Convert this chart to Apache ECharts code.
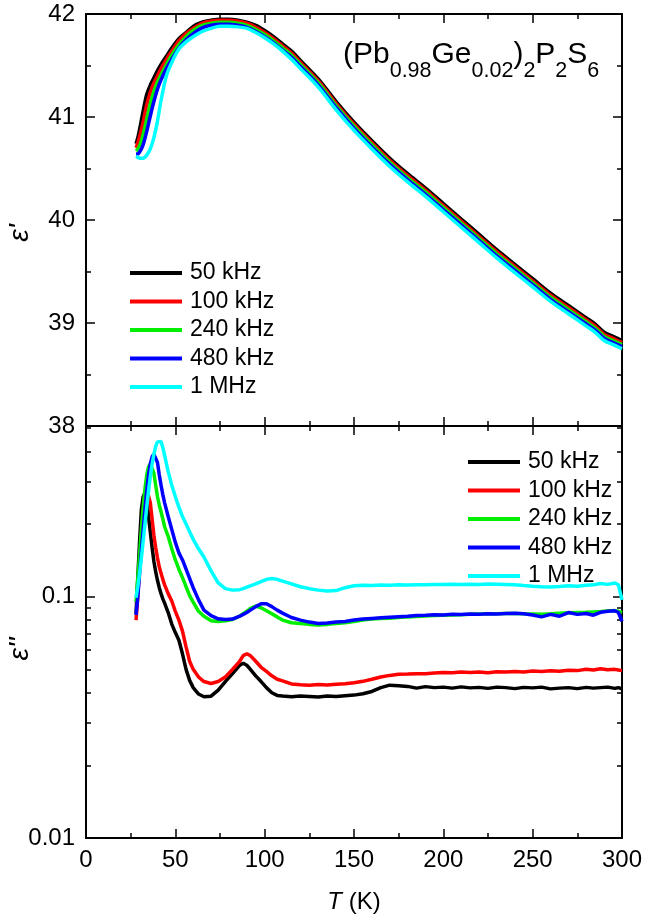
<!DOCTYPE html>
<html>
<head>
<meta charset="utf-8">
<title>(Pb0.98Ge0.02)2P2S6 permittivity</title>
<script src="https://cdn.jsdelivr.net/npm/echarts@6/dist/echarts.min.js"></script>
<style>
  html, body { margin: 0; padding: 0; background: #fff; }
  #main { width: 648px; height: 924px; }
</style>
</head>
<body>
<div id="main"></div>
<script>
const FONT = 'Liberation Sans, Arial, sans-serif'

const freqNames = ['50 kHz', '100 kHz', '240 kHz', '480 kHz', '1 MHz']
const freqColors = ['#000000', '#ff0000', '#00ee00', '#0000ff', '#00ffff']

// upper panel: real part eps'
const tempTop = [28, 29, 30, 31, 32, 34, 36, 38, 40, 42, 45, 48, 52, 56, 60, 65, 70, 75, 80, 85, 90, 95, 100, 105, 110, 115, 120, 130, 140, 150, 160, 170, 180, 190, 200, 210, 220, 230, 240, 250, 260, 270, 280, 285, 290, 295, 300]
const epsRe50k = [40.74, 40.80, 40.88, 40.97, 41.06, 41.22, 41.31, 41.38, 41.45, 41.51, 41.59, 41.67, 41.76, 41.82, 41.88,
  41.92, 41.94, 41.95, 41.95, 41.94, 41.92, 41.89, 41.84, 41.78, 41.71, 41.64, 41.55, 41.37, 41.15, 40.95, 40.77, 40.60, 40.45, 40.31, 40.16, 40.01, 39.86, 39.71, 39.57, 39.43, 39.29, 39.17, 39.05, 38.99, 38.91, 38.87, 38.83]
const epsRe100k = [40.70, 40.75, 40.81, 40.88, 40.95, 41.12, 41.24, 41.33, 41.40, 41.47, 41.56, 41.64, 41.74, 41.81, 41.86,
  41.91, 41.93, 41.94, 41.94, 41.93, 41.91, 41.87, 41.82, 41.76, 41.69, 41.62, 41.53, 41.35, 41.13, 40.93, 40.75, 40.58, 40.43, 40.29, 40.14, 39.99, 39.84, 39.69, 39.55, 39.41, 39.27, 39.15, 39.03, 38.97, 38.89, 38.85, 38.81]
const epsRe240k = [40.67, 40.69, 40.72, 40.77, 40.83, 40.98, 41.13, 41.25, 41.34, 41.41, 41.51, 41.60, 41.70, 41.78, 41.84,
  41.89, 41.91, 41.92, 41.92, 41.91, 41.89, 41.85, 41.80, 41.74, 41.67, 41.60, 41.51, 41.33, 41.11, 40.91, 40.73, 40.56, 40.41, 40.27, 40.12, 39.97, 39.82, 39.67, 39.53, 39.39, 39.25, 39.13, 39.01, 38.95, 38.87, 38.83, 38.79]
const epsRe480k = [40.64, 40.64, 40.66, 40.69, 40.73, 40.86, 41.01, 41.15, 41.27, 41.36, 41.47, 41.56, 41.67, 41.75, 41.81,
  41.865, 41.89, 41.90, 41.90, 41.89, 41.87, 41.83, 41.78, 41.72, 41.65, 41.58, 41.49, 41.31, 41.09, 40.89, 40.71, 40.54, 40.39, 40.25, 40.10, 39.95, 39.80, 39.65, 39.51, 39.37, 39.23, 39.11, 38.99, 38.93, 38.85, 38.81, 38.77]
const epsRe1M = [40.62, 40.61, 40.60, 40.60, 40.60, 40.63, 40.69, 40.80, 40.96, 41.16, 41.40, 41.53, 41.66, 41.73, 41.78,
  41.83, 41.86, 41.88, 41.88, 41.875, 41.86, 41.82, 41.77, 41.71, 41.64, 41.56, 41.47, 41.29, 41.07, 40.87, 40.69, 40.52, 40.37, 40.23, 40.08, 39.93, 39.78, 39.63, 39.49, 39.35, 39.21, 39.09, 38.97, 38.91, 38.83, 38.79, 38.75]

// lower panel: imaginary part eps''
const tempBot = [28, 29, 30, 31, 32, 33, 34, 35, 36, 37, 38, 39, 40, 41, 42, 43, 44,
  46, 48, 50, 52, 54, 56, 58, 60,
  63, 66, 70, 74, 78, 82, 86,
  88, 90, 92,
  95, 98, 101, 104, 107, 110,
  115, 120, 125, 130, 135, 140, 145, 150, 155, 160, 165, 170, 175, 180, 185, 190, 195, 200, 205, 210, 215, 220, 225, 230, 235, 240, 245, 250, 255, 260, 265, 270, 275, 280,
  284, 288, 292, 296, 298, 300]
const epsIm50k = [0.085, 0.12, 0.17, 0.23, 0.26, 0.27, 0.255, 0.215, 0.185, 0.16, 0.14, 0.127, 0.117, 0.109, 0.103, 0.098, 0.094,
  0.086, 0.077, 0.071, 0.066, 0.058, 0.050, 0.045, 0.042,
  0.0395, 0.0385, 0.0387, 0.041, 0.0445, 0.048, 0.052,
  0.053, 0.052, 0.050,
  0.047, 0.0445, 0.042, 0.040, 0.039, 0.0388,
  0.0385, 0.0388, 0.0386, 0.0384, 0.0388, 0.0386, 0.0389, 0.0391, 0.0396, 0.0405, 0.0420, 0.0430, 0.0428, 0.0425, 0.0418, 0.0424, 0.0420, 0.0422, 0.0418, 0.0423, 0.0419, 0.0421, 0.0417, 0.0422, 0.0420, 0.0416, 0.0421, 0.0419, 0.0422, 0.0415, 0.0418, 0.0420, 0.0416, 0.0421,
  0.0418, 0.0420, 0.0422, 0.0417, 0.0420, 0.0415]
const epsIm100k = [0.080, 0.10, 0.135, 0.18, 0.225, 0.26, 0.28, 0.275, 0.245, 0.21, 0.18, 0.16, 0.145, 0.133, 0.125, 0.118, 0.112,
  0.103, 0.096, 0.087, 0.080, 0.072, 0.062, 0.054, 0.050,
  0.0465, 0.0445, 0.0437, 0.0445, 0.0465, 0.050, 0.054,
  0.057, 0.058, 0.057,
  0.054, 0.051, 0.049, 0.047, 0.0455, 0.0448,
  0.0435, 0.0432, 0.0430, 0.0433, 0.0431, 0.0434, 0.0436, 0.0440, 0.0446, 0.0455, 0.0465, 0.0472, 0.0477, 0.0478, 0.0480, 0.0479, 0.0483, 0.0485, 0.0484, 0.0487, 0.0485, 0.0488, 0.0484, 0.0489, 0.0487, 0.0490, 0.0488, 0.0492, 0.0490, 0.0493, 0.0491, 0.0496, 0.0494, 0.0500,
  0.0497, 0.0503, 0.0498, 0.0500, 0.0497, 0.0494]
const epsIm240k = [0.095, 0.12, 0.15, 0.19, 0.235, 0.28, 0.32, 0.345, 0.355, 0.35, 0.325, 0.29, 0.26, 0.24, 0.225, 0.21, 0.195,
  0.178, 0.158, 0.142, 0.130, 0.120, 0.110, 0.101, 0.095,
  0.087, 0.083, 0.0795, 0.0790, 0.0795, 0.0805, 0.083,
  0.085, 0.087, 0.0895,
  0.0915, 0.090, 0.0875, 0.085, 0.0825, 0.080,
  0.078, 0.0775, 0.0768, 0.0763, 0.0768, 0.0775, 0.0780, 0.0790, 0.0800, 0.0808, 0.0812, 0.0815, 0.0820, 0.0825, 0.0828, 0.0832, 0.0835, 0.0838, 0.0840, 0.0842, 0.0845, 0.0848, 0.0850, 0.0850, 0.0852, 0.0853, 0.0850, 0.0848, 0.0846, 0.0850, 0.0855, 0.0858, 0.0860, 0.0862,
  0.0865, 0.0868, 0.0872, 0.0876, 0.0870, 0.0860]
const epsIm480k = [0.084, 0.10, 0.125, 0.155, 0.19, 0.23, 0.275, 0.32, 0.355, 0.38, 0.39, 0.385, 0.36, 0.32, 0.29, 0.265, 0.245,
  0.215, 0.19, 0.168, 0.152, 0.142, 0.130, 0.119, 0.109,
  0.097, 0.088, 0.0835, 0.081, 0.0805, 0.0808, 0.083,
  0.0845, 0.086, 0.088,
  0.091, 0.0935, 0.0935, 0.091, 0.088, 0.0855,
  0.082, 0.080, 0.0785, 0.0775, 0.0778, 0.0785, 0.0790, 0.0800, 0.0808, 0.0813, 0.0818, 0.0822, 0.0826, 0.0830, 0.0835, 0.0838, 0.0842, 0.0840, 0.0845, 0.0843, 0.0848, 0.0846, 0.0850, 0.0848, 0.0853, 0.0855, 0.0850, 0.0840, 0.0825, 0.0845, 0.0830, 0.0860, 0.0845, 0.0852,
  0.0838, 0.0862, 0.0870, 0.0875, 0.0860, 0.0790]
const epsIm1M = [0.099, 0.11, 0.125, 0.145, 0.17, 0.20, 0.235, 0.275, 0.315, 0.355, 0.39, 0.42, 0.438, 0.445, 0.44, 0.415, 0.385,
  0.33, 0.29, 0.26, 0.235, 0.215, 0.200, 0.186, 0.173,
  0.158, 0.146, 0.128, 0.114, 0.108, 0.1065, 0.107,
  0.108, 0.1095, 0.111,
  0.113, 0.1155, 0.118, 0.119, 0.118, 0.116,
  0.113, 0.110, 0.108, 0.1065, 0.1055, 0.1060, 0.1090, 0.1110, 0.1115, 0.1112, 0.1118, 0.1115, 0.1120, 0.1118, 0.1122, 0.1120, 0.1125, 0.1123, 0.1126, 0.1124, 0.1127, 0.1125, 0.1128, 0.1126, 0.1124, 0.1120, 0.1112, 0.1105, 0.1100, 0.1098, 0.1102, 0.1110, 0.1106, 0.1115,
  0.1120, 0.1135, 0.1125, 0.1140, 0.1120, 0.0970]

const xTicks = { min: 0, max: 300, interval: 50 }
const yTopTicks = { min: 38, max: 42, interval: 1 }
const yBotRange = { min: 0.01, max: 0.51 }
const yBotLabels = [0.01, 0.1]

const topSets = [epsRe50k, epsRe100k, epsRe240k, epsRe480k, epsRe1M]
const botSets = [epsIm50k, epsIm100k, epsIm240k, epsIm480k, epsIm1M]

const axisLine = { show: true, onZero: false, lineStyle: { color: '#000', width: 2 } }
const tickStyle = { color: '#000', width: 1.5 }
const labelStyle = { color: '#000', fontSize: 24, fontFamily: FONT }

function xAxis(gridIndex, position, withLabels) {
  return {
    type: 'value', gridIndex, position, ...xTicks,
    axisLine,
    axisTick: { show: true, inside: true, length: 9, lineStyle: tickStyle },
    minorTick: { show: true, splitNumber: 2, length: 5, lineStyle: tickStyle },
    axisLabel: { show: withLabels, margin: 10, ...labelStyle },
    splitLine: { show: false }
  }
}

function yTop(position, withLabels) {
  return {
    type: 'value', gridIndex: 0, position, ...yTopTicks,
    axisLine,
    axisTick: { show: true, inside: true, length: 9, lineStyle: tickStyle },
    minorTick: { show: true, splitNumber: 2, length: 5, lineStyle: tickStyle },
    axisLabel: { show: withLabels, margin: 11, ...labelStyle },
    splitLine: { show: false }
  }
}

function yBot(position, withLabels) {
  return {
    type: 'log', logBase: 10, gridIndex: 1, position, ...yBotRange,
    axisLine,
    axisTick: { show: true, inside: true, length: 9, lineStyle: tickStyle },
    minorTick: { show: true, splitNumber: 9, length: 5, lineStyle: tickStyle },
    axisLabel: {
      show: withLabels, margin: 11, ...labelStyle,
      formatter: v => {
        const hit = yBotLabels.find(l => Math.abs(l - v) < l * 1e-6)
        return hit === undefined ? '' : String(hit)
      }
    },
    splitLine: { show: false }
  }
}

const series = []
freqNames.forEach((name, i) => {
  series.push({
    name, type: 'line', xAxisIndex: 0, yAxisIndex: 0,
    data: tempTop.map((t, j) => [t, topSets[i][j]]),
    showSymbol: false, symbol: 'none', smooth: 0.3,
    lineStyle: { color: freqColors[i], width: 3.5 },
    itemStyle: { color: freqColors[i] }
  })
})
freqNames.forEach((name, i) => {
  series.push({
    name, type: 'line', xAxisIndex: 2, yAxisIndex: 2,
    data: tempBot.map((t, j) => [t, botSets[i][j]]),
    showSymbol: false, symbol: 'none',
    lineStyle: { color: freqColors[i], width: 3.5 },
    itemStyle: { color: freqColors[i] }
  })
})

const legendBase = {
  data: freqNames, orient: 'vertical', icon: 'rect',
  itemWidth: 52, itemHeight: 4, itemGap: 2.5, selectedMode: false,
  textStyle: { color: '#000', fontSize: 23, fontFamily: FONT, lineHeight: 26, padding: [0, 0, 0, 3] }
}

const yNameStyle = { color: '#000', fontSize: 28, fontStyle: 'italic', fontFamily: FONT }

const option = {
  animation: false,
  backgroundColor: '#fff',
  grid: [
    { left: 86, right: 26, top: 14, height: 412, outerBoundsMode: 'none', containLabel: false },
    { left: 86, right: 26, top: 426, height: 412, outerBoundsMode: 'none', containLabel: false }
  ],
  xAxis: [
    xAxis(0, 'bottom', false),
    xAxis(0, 'top', false),
    {
      ...xAxis(1, 'bottom', true),
      name: '{i|T} (K)', nameLocation: 'middle', nameGap: 52, nameMoveOverlap: false,
      nameTextStyle: {
        color: '#000', fontSize: 24, fontFamily: FONT,
        rich: { i: { fontStyle: 'italic', fontSize: 24, fontFamily: FONT, color: '#000' } }
      }
    },
    xAxis(1, 'top', false)
  ],
  yAxis: [
    {
      ...yTop('left', true),
      name: "ε'", nameLocation: 'middle', nameRotate: 90, nameGap: 52, nameMoveOverlap: false,
      nameTextStyle: { ...yNameStyle, padding: [0, 26, 0, 0] }
    },
    yTop('right', false),
    {
      ...yBot('left', true),
      name: "ε''", nameLocation: 'middle', nameRotate: 90, nameGap: 52, nameMoveOverlap: false,
      nameTextStyle: { ...yNameStyle, padding: [0, 34, 0, 0] }
    },
    yBot('right', false)
  ],
  legend: [
    { ...legendBase, left: 125, top: 255 },
    { ...legendBase, left: 463, top: 444 }
  ],
  graphic: [{
    type: 'text', left: 343, top: 40,
    style: {
      text: '{m|(Pb}{s|0.98}{m|Ge}{s|0.02}{m|)}{s|2}{m|P}{s|2}{m|S}{s|6}',
      rich: {
        m: { fontSize: 30, lineHeight: 30, fontFamily: FONT, fill: '#000', verticalAlign: 'top' },
        s: { fontSize: 21.5, lineHeight: 21, fontFamily: FONT, fill: '#000', verticalAlign: 'top', padding: [20, 0, 0, 0] }
      }
    }
  }],
  series
}

const chart = echarts.init(document.getElementById('main'), null, { renderer: 'canvas' })
chart.setOption(option)
</script>
</body>
</html>
